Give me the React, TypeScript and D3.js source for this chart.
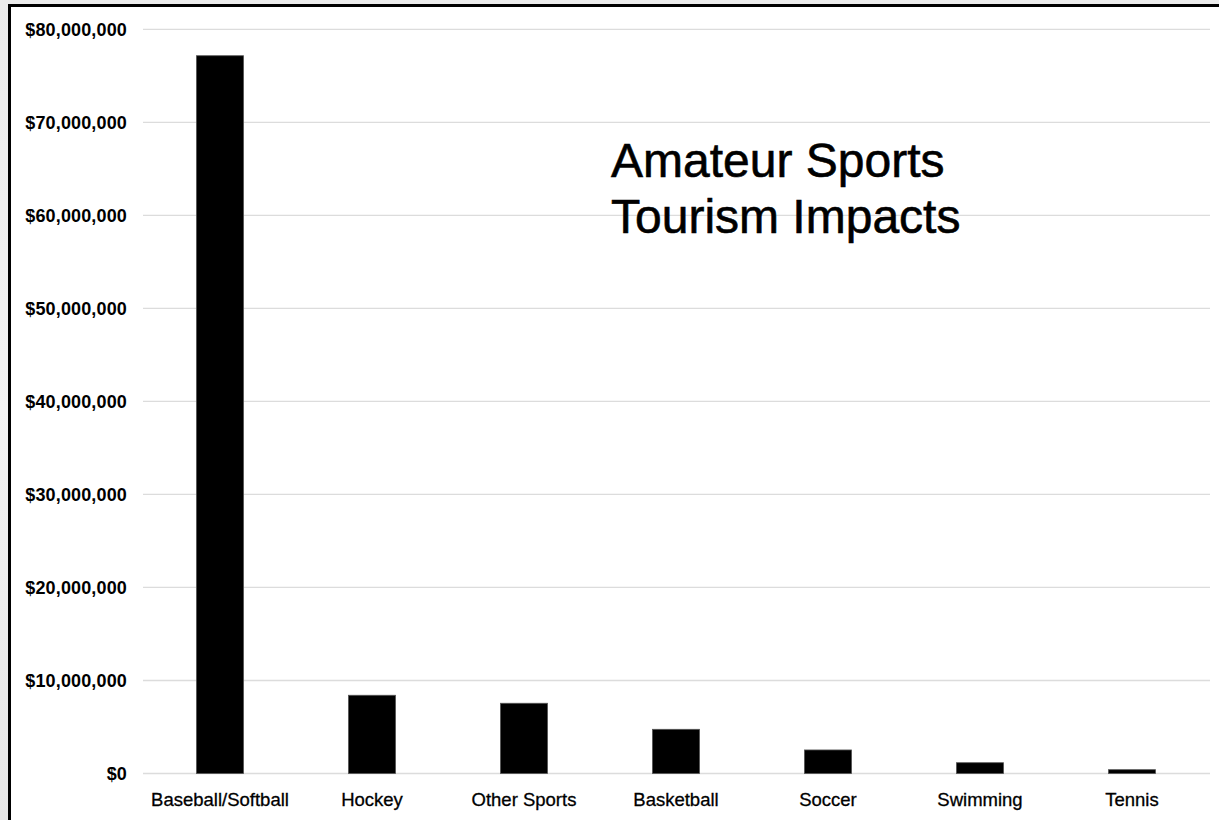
import React from "react";
import * as d3 from "d3";

const categories = ["Baseball/Softball", "Hockey", "Other Sports", "Basketball", "Soccer", "Swimming", "Tennis"];
const values = [77160000, 8410000, 7550000, 4750000, 2530000, 1160000, 410000];
const yTicks = [0, 10000000, 20000000, 30000000, 40000000, 50000000, 60000000, 70000000, 80000000];
const titleLines = ["Amateur Sports", "Tourism Impacts"];

const W = 1219;
const H = 820;
const plotLeft = 144;
const plotRight = 1208;
const plotTop = 29.3;
const plotBottom = 773.5;

export default function App() {
  const x = d3.scaleBand<string>().domain(categories).range([plotLeft, plotRight]).paddingInner(0.69).paddingOuter(0.345);
  const y = d3.scaleLinear().domain([0, 80000000]).range([plotBottom, plotTop]);
  const fmt = (v: number) => "$" + d3.format(",")(v);
  const font = "'Liberation Sans', Arial, sans-serif";
  return (
    <div style={{ position: "absolute", left: 0, top: 0, width: W, height: H }}>
      <svg width={W} height={H} style={{ display: "block" }}>
        <defs>
          <linearGradient id="bgGrad" x1="0" y1="0" x2="0" y2="1">
            <stop offset="0" stopColor="#ebebeb" />
            <stop offset="0.5" stopColor="#f3f3f3" />
            <stop offset="1" stopColor="#e6e6e6" />
          </linearGradient>
        </defs>
        <rect x={0} y={0} width={W} height={H} fill="url(#bgGrad)" />
        <rect x={11} y={7} width={W - 11} height={H - 7} fill="#ffffff" />
        <line x1={8} x2={W} y1={5.5} y2={5.5} stroke="#000" strokeWidth={3} />
        <line x1={9.5} x2={9.5} y1={4} y2={H} stroke="#000" strokeWidth={3} />
        {yTicks.map((t) => (
          <g key={t}>
            <line x1={plotLeft - 1} x2={plotRight + 2} y1={y(t)} y2={y(t)} stroke="#dcdcdc" strokeWidth={1.3} />
            <text x={127} y={y(t)} dy="0.36em" textAnchor="end" fontFamily={font} fontWeight="bold" fontSize={18} letterSpacing={0.15} fill="#000">
              {fmt(t)}
            </text>
          </g>
        ))}
        {categories.map((c, i) => (
          <g key={c}>
            <rect x={x(c)} y={y(values[i])} width={x.bandwidth()} height={y(0) - y(values[i])} fill="#000" stroke="#555" strokeWidth={0.8} />
            <text x={(x(c) as number) + x.bandwidth() / 2} y={806} textAnchor="middle" fontFamily={font} fontSize={18.5} fill="#000" stroke="#000" strokeWidth={0.3}>
              {c}
            </text>
          </g>
        ))}
        {titleLines.map((l, i) => (
          <text key={l} x={611} y={177 + i * 56} fontFamily={font} fontSize={48} fill="#000" stroke="#000" strokeWidth={0.6}>
            {l}
          </text>
        ))}
      </svg>
    </div>
  );
}
